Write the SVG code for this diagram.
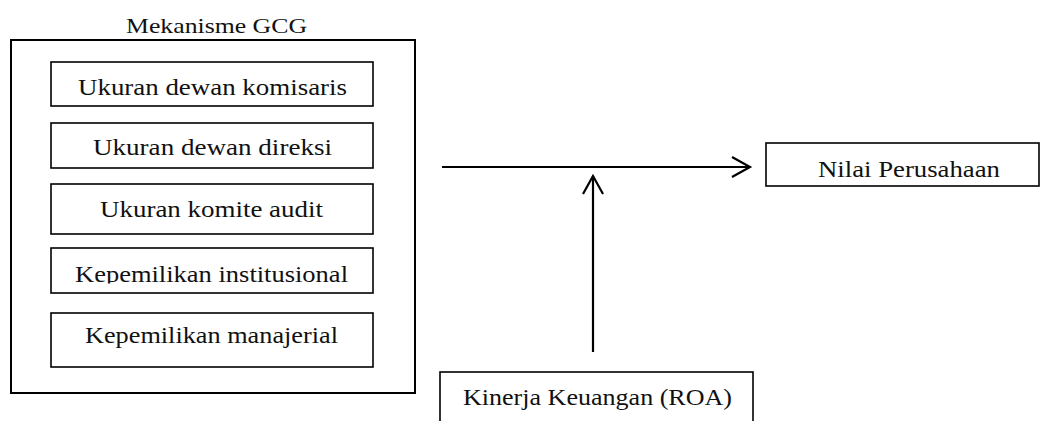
<svg xmlns="http://www.w3.org/2000/svg" width="1042" height="421" viewBox="0 0 1042 421">
<style>
.box{fill:#fff;stroke:#000;stroke-width:1.6}
.outer{fill:#fff;stroke:#000;stroke-width:2}
.t{font-family:"Liberation Serif","Times New Roman",serif;font-size:24px;fill:#111;text-anchor:middle}
.title{font-size:22px}
.conn{stroke:#000;stroke-width:2.2;fill:none}
</style>
<defs>
<marker id="arr" markerUnits="userSpaceOnUse" markerWidth="30" markerHeight="30" viewBox="-25 -15 30 30" refX="0" refY="0" orient="auto">
<path d="M-18,-10 L0,0 L-18,10" fill="none" stroke="#000" stroke-width="2.2"/>
</marker>
<clipPath id="c4"><rect x="40" y="240" width="340" height="43.5"/></clipPath>
<clipPath id="cn"><rect x="760" y="140" width="282" height="38"/></clipPath>
</defs>
<g id="gcg">
<rect class="outer" x="11" y="40" width="404" height="353"/>
<text class="t title" x="216.5" y="33" textLength="181" lengthAdjust="spacingAndGlyphs">Mekanisme GCG</text>
</g>
<g id="n1">
<rect class="box" x="51" y="62" width="322" height="44"/>
<text class="t" x="212.5" y="95" textLength="269" lengthAdjust="spacingAndGlyphs">Ukuran dewan komisaris</text>
</g>
<g id="n2">
<rect class="box" x="51" y="123" width="322" height="45"/>
<text class="t" x="212.5" y="155" textLength="239" lengthAdjust="spacingAndGlyphs">Ukuran dewan direksi</text>
</g>
<g id="n3">
<rect class="box" x="51" y="184" width="322" height="50"/>
<text class="t" x="211.5" y="217" textLength="223" lengthAdjust="spacingAndGlyphs">Ukuran komite audit</text>
</g>
<g id="n4">
<rect class="box" x="51" y="248" width="322" height="45"/>
<text class="t" x="211.5" y="282" textLength="273" lengthAdjust="spacingAndGlyphs" clip-path="url(#c4)">Kepemilikan institusional</text>
</g>
<g id="n5">
<rect class="box" x="51" y="313" width="322" height="54"/>
<text class="t" x="211.5" y="343" textLength="253" lengthAdjust="spacingAndGlyphs">Kepemilikan manajerial</text>
</g>
<g id="nilai">
<rect class="box" x="766" y="143" width="273" height="43"/>
<text class="t" x="909" y="177" textLength="182" lengthAdjust="spacingAndGlyphs" clip-path="url(#cn)">Nilai Perusahaan</text>
</g>
<g id="kinerja">
<rect class="box" x="440" y="372" width="313" height="60"/>
<text class="t" x="597.5" y="405" textLength="269" lengthAdjust="spacingAndGlyphs">Kinerja Keuangan (ROA)</text>
</g>
<g id="connectors">
<line class="conn" x1="442" y1="167" x2="750" y2="167" marker-end="url(#arr)"/>
<line class="conn" x1="593" y1="352" x2="593" y2="176" marker-end="url(#arr)"/>
</g>
</svg>
